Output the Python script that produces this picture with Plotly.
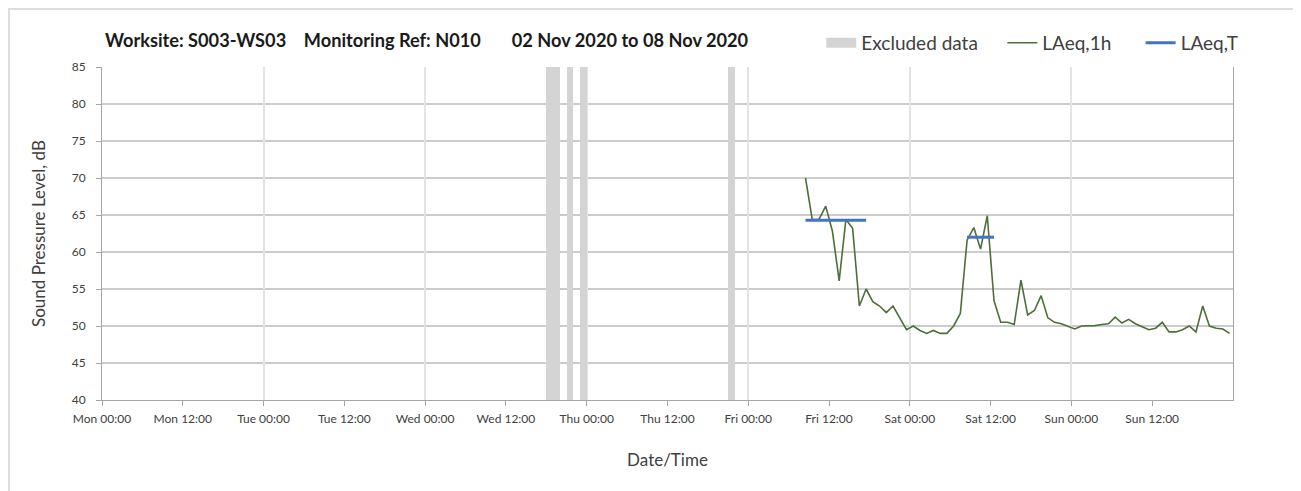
import plotly.graph_objects as go
import pandas as pd

# ---- data ----
laeq_1h_start = "2020-11-06 08:30"
laeq_1h_values = [
    70.0, 64.4, 64.4, 66.2, 62.8, 56.1, 64.4, 63.2, 52.7, 55.0,
    53.3, 52.7, 51.8, 52.7, 51.1, 49.5, 50.0, 49.4, 49.0, 49.4,
    49.0, 49.0, 50.0, 51.7, 61.6, 63.3, 60.4, 64.9, 53.4, 50.5,
    50.5, 50.2, 56.2, 51.5, 52.1, 54.1, 51.1, 50.5, 50.3, 50.0,
    49.6, 50.0, 50.0, 50.05, 50.2, 50.3, 51.2, 50.4, 50.9, 50.3,
    49.9, 49.5, 49.7, 50.5, 49.2, 49.2, 49.5, 50.0, 49.2, 52.7,
    50.0, 49.7, 49.6, 49.0,
]
laeq_t_periods = [
    ("2020-11-06 08:30", "2020-11-06 17:30", 64.3),
    ("2020-11-07 08:30", "2020-11-07 12:30", 62.0),
]
excluded_hours = [
    "2020-11-04 18:00", "2020-11-04 19:00", "2020-11-04 21:00",
    "2020-11-04 23:00", "2020-11-05 21:00",
]
x_range = ["2020-11-02 00:00", "2020-11-09 00:00"]
x_tick_labels_count = 14  # Mon 00:00 ... Sun 12:00, every 12 h
y_range = [40, 85]
series_names = ["Excluded data", "LAeq,1h", "LAeq,T"]
title_text = ("Worksite: S003-WS03\u00a0\u00a0\u00a0\u00a0Monitoring Ref: N010"
              "\u00a0\u00a0\u00a0\u00a0\u00a0\u00a0\u00a002 Nov 2020 to 08 Nov 2020")

FONT = "Lato"
NB = "\u00a0"
EXCL_COLOR = "#d4d4d4"
times = pd.date_range(laeq_1h_start, periods=len(laeq_1h_values), freq="h")
excl_centers = [pd.Timestamp(t) + pd.Timedelta(minutes=30) for t in excluded_hours]
tick_vals = pd.date_range(x_range[0], periods=x_tick_labels_count, freq="12h")

fig = go.Figure()

# legend entry for the excluded-data columns (wide grey swatch)
fig.add_trace(go.Scatter(
    x=[None], y=[None], mode="lines",
    line=dict(color=EXCL_COLOR, width=12),
    name=series_names[0] + NB * 4, legendgroup="excl", hoverinfo="skip",
))
fig.add_trace(go.Bar(
    x=excl_centers, y=[y_range[1]] * len(excl_centers),
    width=[3600000] * len(excl_centers),
    marker=dict(color=EXCL_COLOR, line=dict(width=0)),
    name=series_names[0], legendgroup="excl", showlegend=False,
    xaxis="x2", yaxis="y",
))
fig.add_trace(go.Scatter(
    x=times, y=laeq_1h_values, mode="lines",
    line=dict(color="#4e6e3a", width=1.6), name=series_names[1] + NB * 5,
))
bx, by = [], []
for s, e, v in laeq_t_periods:
    bx += [s, e, None]
    by += [v, v, None]
fig.add_trace(go.Scatter(
    x=bx, y=by, mode="lines", line=dict(color="#4472c4", width=3),
    name=series_names[2], connectgaps=False,
))

tickfont = dict(family=FONT, size=12, color="#404040")
fig.update_layout(
    width=1301, height=491,
    margin=dict(l=94, r=76, t=59, b=99),
    paper_bgcolor="white", plot_bgcolor="white",
    font=dict(family=FONT, color="#404040"),
    showlegend=True,
    legend=dict(orientation="h", x=0.636, xanchor="left",
                yref="container", y=0.929, yanchor="middle",
                font=dict(family=FONT, size=19, color="#404040"),
                bgcolor="rgba(0,0,0,0)", itemwidth=30, tracegroupgap=0),
    xaxis=dict(
        type="date", range=x_range, tickmode="array", tickvals=tick_vals,
        tickformat="%a %H:%M", tickfont=tickfont, automargin=False,
        showgrid=False, zeroline=False, ticklabelstandoff=3,
        showline=True, linecolor="#a6a6a6", linewidth=1,
        ticks="outside", ticklen=5, tickcolor="#a6a6a6",
        title=dict(text="Date/Time", font=dict(family=FONT, size=17, color="#404040"), standoff=28),
    ),
    xaxis2=dict(
        type="date", range=x_range, dtick=86400000, tick0=x_range[0],
        overlaying="x", anchor="y", side="bottom", automargin=False,
        showgrid=True, gridcolor="#e3e3e3", gridwidth=1.5,
        showticklabels=False, ticks="", zeroline=False, showline=False,
    ),
    yaxis=dict(
        range=y_range, dtick=5, tickfont=tickfont, automargin=False,
        showgrid=True, gridcolor="#cccccc", gridwidth=1.5, zeroline=False,
        showline=True, linecolor="#a6a6a6", linewidth=1, mirror=True,
        ticks="outside", ticklen=5, tickcolor="#a6a6a6", ticklabelstandoff=8,
        title=dict(text="Sound Pressure Level, dB", font=dict(family=FONT, size=17, color="#404040"), standoff=21),
    ),
    bargap=0,
)

fig.add_annotation(
    text=title_text, xref="paper", yref="paper", x=0.001, y=1.081,
    xanchor="left", yanchor="middle", showarrow=False,
    font=dict(family=FONT, size=18.2, color="#1a1a1a", weight="bold"),
)
# outer chart border
fig.add_shape(type="rect", xref="paper", yref="paper",
              x0=-0.0822, x1=1.0566, y0=-0.33, y1=1.174,
              line=dict(color="#dedede", width=2), fillcolor="rgba(0,0,0,0)", layer="below")

fig.write_html("out.html")
